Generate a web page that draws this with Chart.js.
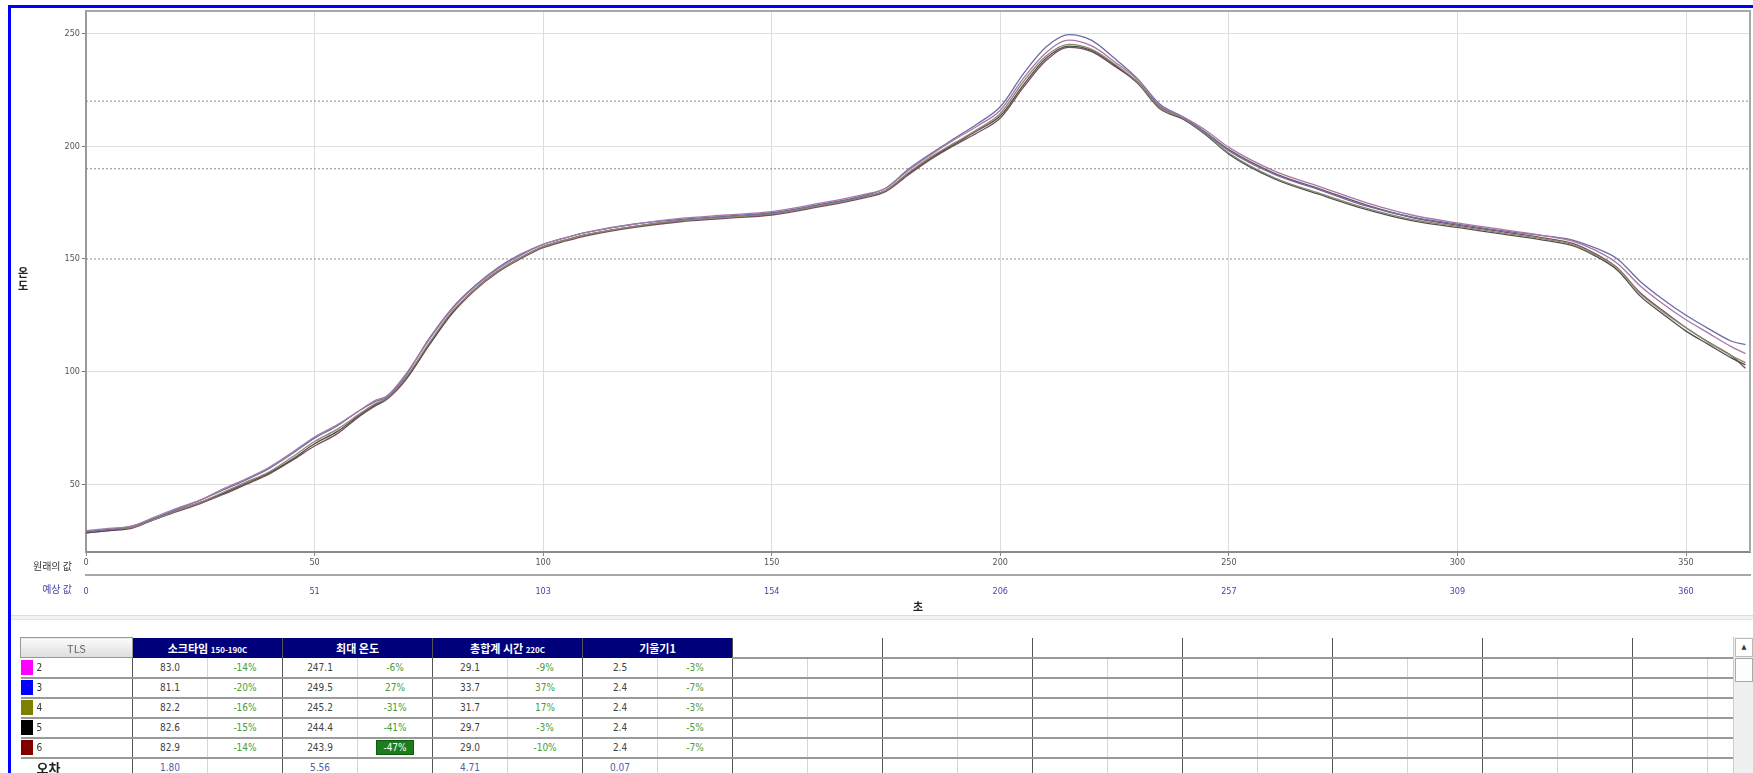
<!DOCTYPE html>
<html>
<head>
<meta charset="utf-8">
<title>Reflow Profile</title>
<script src="https://cdn.jsdelivr.net/npm/chart.js@4.4.0/dist/chart.umd.min.js"></script>
<style>
body { margin:0; background:#fff; width:1753px; height:773px; overflow:hidden; position:relative;
       font-family:"Liberation Sans Narrow","DejaVu Sans Condensed","Noto Sans CJK KR",sans-serif; }
#frame { position:absolute; left:8px; top:5px; right:0; bottom:0; border-left:3px solid #0000ff; border-top:3px solid #0000ff; }
#chartBox { position:absolute; left:0; top:0; width:1753px; height:615px; }
#yTitle { position:absolute; left:16px; top:266px; width:14px; text-align:center;
          font:bold 11px "Noto Sans CJK KR",sans-serif; line-height:13px; color:#222; }
.rowLabel { position:absolute; right:1681px; font:10px "Noto Sans CJK KR",sans-serif; white-space:nowrap; }
#sep { position:absolute; left:11px; right:0; top:615px; height:3px; background:#f2f2f2; border-top:1px solid #ddd; border-bottom:1px solid #e6e6e6; }
#tableBox { position:absolute; left:20px; top:637px; width:1713px; height:136px; overflow:hidden; }
table { border-collapse:collapse; table-layout:fixed; width:1762px; font-size:10px; }
td, th { height:18px; padding:0; text-align:center; white-space:nowrap; overflow:hidden; }
th { height:19px; font-weight:bold; color:#fff; background:#00007a; font-family:"Noto Sans CJK KR",sans-serif; font-size:11px; border-right:1px solid #555; }
th small { font-size:8px; }
th.first { background:linear-gradient(#fafafa,#dedede); color:#666; font-weight:normal; border:1px solid #999; }
th.blank { background:#fff; border-right:1px solid #555; border-bottom:2px solid #999; }
td { border-bottom:2px solid #9a9a9a; color:#444; }
td.a { border-right:1px solid #d6d6d6; }
td.b { border-right:1px solid #555; }
td.pct { color:#4a9a3a; }
td.err { color:#5060a8; }
td.name { text-align:left; border-right:1px solid #555; color:#333; }
.sw { display:inline-block; width:12px; height:15px; vertical-align:middle; margin-right:4px; }
.hl { background:#1b7d1b; color:#fff; padding:1px 6px; border:1px solid #0c5c0c; }
#scroll { position:absolute; left:1733px; top:637px; width:19px; height:136px; background:#f0f0f0; border-left:1px solid #ccc; }
#scroll .up { position:absolute; left:1px; top:1px; width:16px; height:17px; background:#fff; border:1px solid #bbb; font-size:7px; text-align:center; line-height:17px; color:#333; }
#scroll .thumb { position:absolute; left:1px; top:21px; width:16px; height:22px; background:#fdfdfd; border:1px solid #aaa; }
</style>
</head>
<body>
<div id="frame"></div>
<div id="chartBox"><canvas id="profile"></canvas></div>
<div id="yTitle">온<br>도</div>
<div class="rowLabel" style="top:558px; color:#333;">원래의 값</div>
<div class="rowLabel" style="top:581px; color:#4646a8;">예상 값</div>
<div id="sep"></div>
<div id="tableBox"><table id="stats"></table></div>
<div id="scroll"><div class="up">&#9650;</div><div class="thumb"></div></div>
<script>
// time axis (seconds) shared by all probes
const times = [0,5,10,15,20,25,30,35,40,45, 50,55,60,63,66,70,75,80,85,90,
  95,100,105,110,120,130,140,150,160,170, 175,180,185,190,195,200,205,210,215,220,
  225,230,235,240,245,250,260,270,280,290, 300,310,320,325,330,335,340,345,350,355, 360,363];

const tc2 = [29.5,30.5,31.5,35.5,39.5,43,48,52.5,57.5,64, 71,76.5,83,87,89.5,99,114,127.5,137.5,145.5,
  151.5,156.5,159.5,162,165.5,168,169.5,171,174.5,178.5, 181.5,189.5,196.5,203,209,216,230,241.5,247.1,244.5,
  237.5,229.5,218,213,207,199.5,189,182,175,169.5, 166,163,160,158,154,148,138,130,123,117, 111,108];
const tc3 = [29,30,31.5,35,39,43,47.5,52,57,63.5, 70.5,76,83,86.5,89,98.5,114.5,128,138,146,
  152,156.5,159.5,162,165.5,167.5,169,170.5,174,178, 181.5,190,197,203.5,210,217.5,232,244,249.5,247,
  239,230,218.5,213,206,198,187.5,180.5,173.5,168.5, 165.5,162.5,160,158.5,155,150,140,132,125,119, 113.5,112];
const tc4 = [29,30,31,34.5,38.5,42,46.5,51,55.5,62, 69,74.5,81.5,85.5,88.5,97.5,112.5,126.5,136.5,144.5,
  150.5,155.5,158.5,161,164.5,167,168.5,170,173.5,177.5, 180.5,188.5,195.5,201.5,207.5,214.5,228.5,240,245.2,243,
  236.5,228.5,217,212.5,205.5,197,186,179,172.5,167.5, 164.5,161.5,158.5,156.5,152,146,134.5,126.5,119.5,113, 107,104];
const tc5 = [28.5,29.5,31,34.5,38.5,42,46,50.5,55,61, 68,73.5,81,85,88.5,97,112,126,136.5,144.5,
  150.5,155.5,158.5,161,164.5,167,168.5,170,173.5,177.5, 180.5,188,195,201,207,213.5,227,239,244.4,242.5,
  236,228,216.5,212,205,196.5,185.5,178.5,172,167, 164,161,158,156,151.5,145,133.5,125.5,118,112, 106,103];
const tc6 = [28.5,29.5,30.5,34.5,38,41.5,45.5,50,54.5,60.5, 67,72.5,80.5,84.5,88,96.5,111.5,125.5,136,144,
  150,155,158,160.5,164,166.5,168,169.5,173,177, 180,187.5,194.5,200.5,206,212.5,226,238,243.9,242,
  235.5,228.5,217.5,212.5,206,198.5,188,181,174,168.5, 165,162,159,157,152.5,146,135,127,119.5,113, 107,101.5];

const xTicks = [0,50,100,150,200,250,300,350];
const expectedLabels = ['0','51','103','154','206','257','309','360'];
const yTicks = [50,100,150,200,250];
const thresholds = [150,190,220];

// statistics table
const probeNames = ['2','3','4','5','6'];
const soakTime = [83.0,81.1,82.2,82.6,82.9];
const soakPct = ['-14%','-20%','-16%','-15%','-14%'];
const peakTemp = [247.1,249.5,245.2,244.4,243.9];
const peakPct = ['-6%','27%','-31%','-41%','-47%'];
const timeAbove = [29.1,33.7,31.7,29.7,29.0];
const timeAbovePct = ['-9%','37%','17%','-3%','-10%'];
const slope = [2.5,2.4,2.4,2.4,2.4];
const slopePct = ['-3%','-7%','-3%','-5%','-7%'];
const errorRow = ['1.80','5.56','4.71','0.07'];
const worstCell = '-47%';

const swatchColors = ['#ff00ff','#0000ff','#808000','#000000','#800000'];
const lineColors = ['#a878a8','#6c6ca6','#8c8a6a','#4e4e4e','#7a4c5c'];

Chart.defaults.font.family = '"Liberation Sans Narrow","DejaVu Sans Condensed",sans-serif';
Chart.defaults.font.size = 9;

const series = [tc2, tc3, tc4, tc5, tc6];
const datasets = series.map((s, i) => ({
  label: probeNames[i],
  data: times.map((t, j) => ({x: t, y: s[j]})),
  borderColor: lineColors[i],
  borderWidth: 1.3,
  pointRadius: 0,
  tension: 0.4,
  cubicInterpolationMode: 'monotone',
  fill: false
}));
thresholds.forEach(v => datasets.push({
  label: 'limit ' + v,
  data: [{x: 0, y: v}, {x: 364, y: v}],
  borderColor: '#8c8c8c',
  borderDash: [2, 2],
  borderWidth: 1,
  pointRadius: 0,
  fill: false
}));

const frameBorder = {
  id: 'frameBorder',
  beforeDatasetsDraw(chart) {
    const a = chart.chartArea, c = chart.ctx;
    c.save();
    c.strokeStyle = '#a8a8a8';
    c.lineWidth = 2;
    c.beginPath();
    c.moveTo(a.left, a.top); c.lineTo(a.right, a.top); c.lineTo(a.right, a.bottom);
    c.stroke();
    c.restore();
  }
};

new Chart(document.getElementById('profile'), {
  type: 'line',
  data: { datasets: datasets },
  options: {
    responsive: true,
    maintainAspectRatio: false,
    animation: false,
    layout: { padding: { left: 0, top: 11, right: 3, bottom: 0 } },
    plugins: { legend: { display: false }, tooltip: { enabled: false } },
    scales: {
      x: {
        type: 'linear', position: 'bottom', min: 0, max: 364,
        afterBuildTicks: s => { s.ticks = xTicks.map(v => ({value: v})); },
        afterFit: s => { s.height = 23; },
        grid: { color: '#dcdcdc', tickLength: 4, tickColor: '#888' },
        border: { color: '#8a8a8a', width: 2 },
        ticks: { color: '#555', maxRotation: 0, padding: 1 }
      },
      x2: {
        type: 'linear', position: 'bottom', min: 0, max: 364,
        afterBuildTicks: s => { s.ticks = xTicks.map(v => ({value: v})); },
        afterFit: s => { s.height = 40; },
        grid: { display: false },
        border: { display: true, color: '#a8a8a8', width: 2 },
        ticks: { color: '#4646a8', maxRotation: 0, padding: 3,
                 callback: (v, i) => expectedLabels[i] },
        title: { display: true, text: '초', color: '#222', padding: 2,
                 font: { size: 11, weight: 'bold', family: '"Noto Sans CJK KR",sans-serif' } }
      },
      y: {
        min: 20, max: 260,
        afterBuildTicks: s => { s.ticks = yTicks.map(v => ({value: v})); },
        afterFit: s => { s.width = 86; },
        grid: {
          color: ctx => (ctx.tick && ctx.tick.value === 150) ? 'rgba(0,0,0,0)' : '#dedede',
          tickLength: 4, tickColor: '#777'
        },
        border: { color: '#999', width: 2 },
        ticks: { color: '#555', padding: 2 }
      }
    }
  },
  plugins: [frameBorder]
});

// build the statistics table
(function () {
  const t = document.getElementById('stats');
  let html = '<colgroup><col style="width:112px">';
  for (let i = 0; i < 22; i++) html += '<col style="width:75px">';
  html += '</colgroup>';
  html += '<tr><th class="first">TLS</th>' +
    '<th colspan="2">소크타임 <small>150-190C</small></th>' +
    '<th colspan="2">최대 온도</th>' +
    '<th colspan="2">총합계 시간 <small>220C</small></th>' +
    '<th colspan="2">기울기1</th>';
  for (let i = 0; i < 7; i++) html += '<th class="blank" colspan="2"></th>';
  html += '</tr>';
  const blanks = () => { let s = ''; for (let i = 0; i < 7; i++) s += '<td class="a"></td><td class="b"></td>'; return s; };
  const pctCell = p => '<td class="b pct">' + (p === worstCell ? '<span class="hl">' + p + '</span>' : p) + '</td>';
  probeNames.forEach((n, i) => {
    html += '<tr><td class="name"><span class="sw" style="background:' + swatchColors[i] + '"></span>' + n + '</td>' +
      '<td class="a">' + soakTime[i].toFixed(1) + '</td>' + pctCell(soakPct[i]) +
      '<td class="a">' + peakTemp[i].toFixed(1) + '</td>' + pctCell(peakPct[i]) +
      '<td class="a">' + timeAbove[i].toFixed(1) + '</td>' + pctCell(timeAbovePct[i]) +
      '<td class="a">' + slope[i].toFixed(1) + '</td>' + pctCell(slopePct[i]) +
      blanks() + '</tr>';
  });
  html += '<tr><td class="name" style="padding-left:16px;font:bold 13px \'Noto Sans CJK KR\',sans-serif;line-height:16px;color:#222">오차</td>';
  errorRow.forEach(e => { html += '<td class="a err">' + e + '</td><td class="b"></td>'; });
  html += blanks() + '</tr>';
  t.innerHTML = html;
})();
</script>
</body>
</html>
